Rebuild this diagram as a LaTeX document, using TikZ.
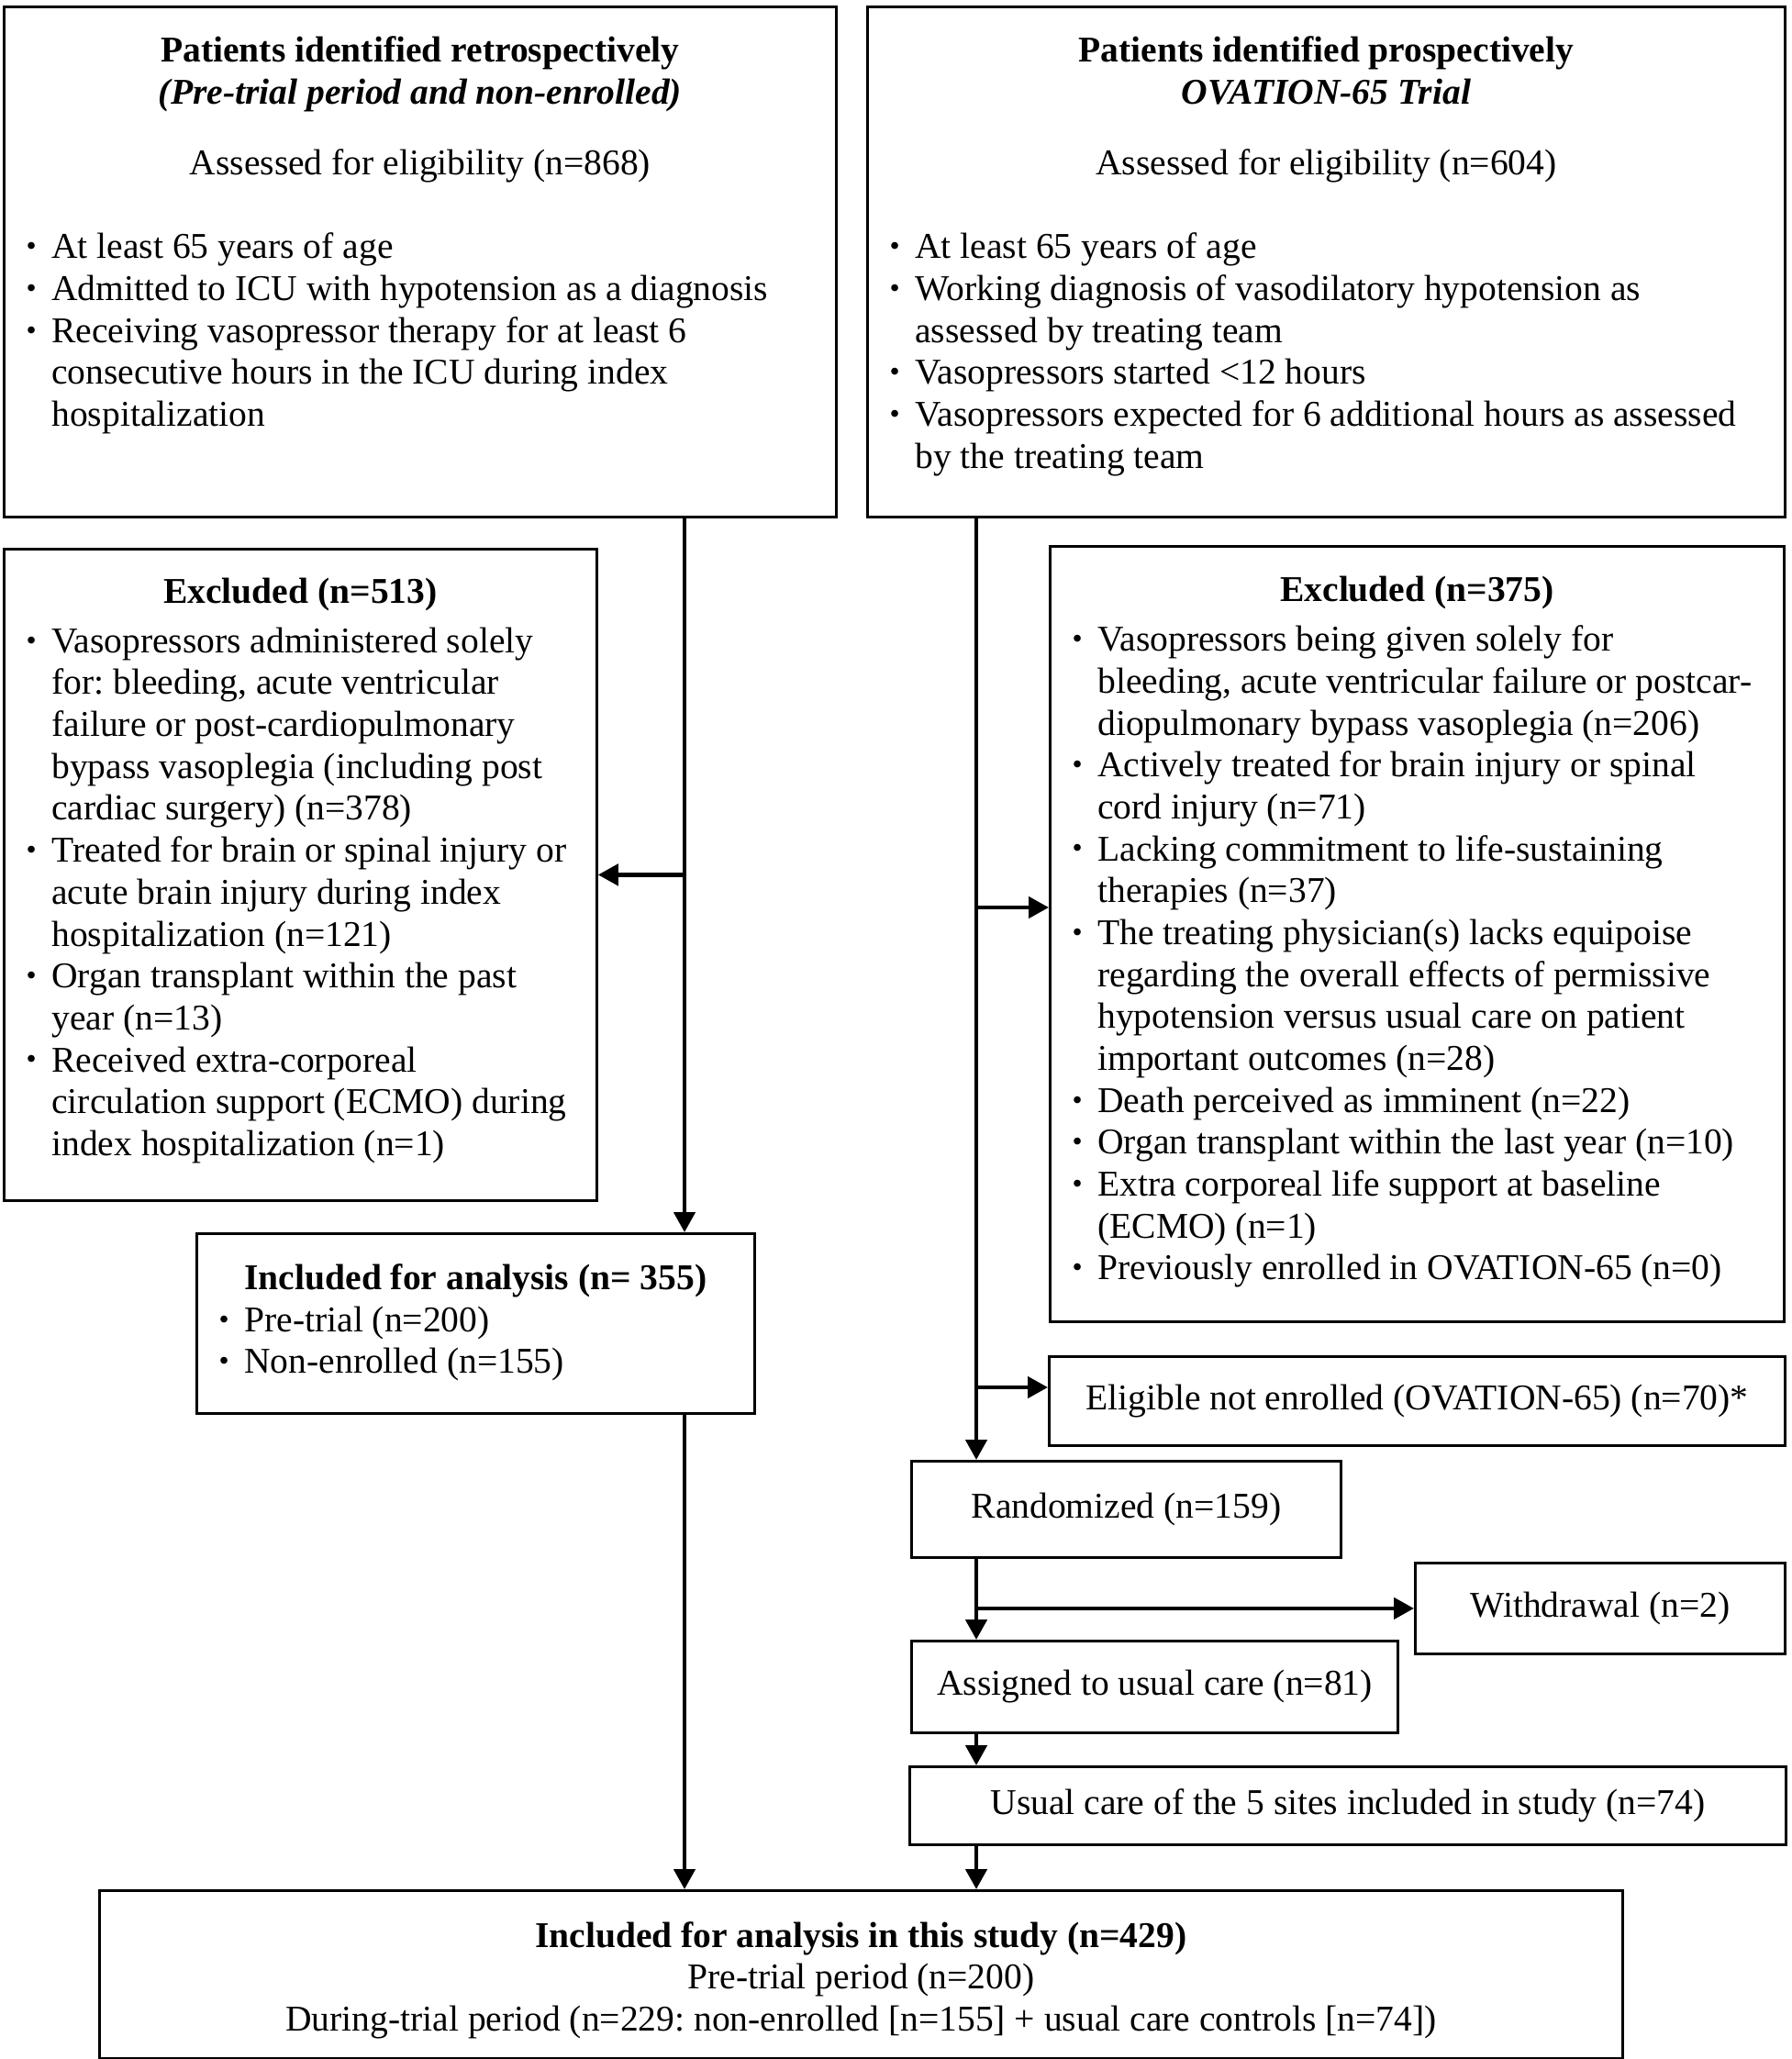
\documentclass[tikz,border=0pt]{standalone}
\usepackage{fontspec}
\setmainfont{Liberation Serif}
\usepackage{tikz}
\usetikzlibrary{arrows.meta,calc}
\frenchspacing

\newcommand{\crit}[1]{\par\noindent\hangindent=14.8pt\hangafter=1\hbox to 14.8pt{\hskip 6.9pt\raisebox{0.9pt}{\fontsize{9pt}{9pt}\selectfont\textbullet}\hfil}\strut #1}

\begin{document}
\begin{tikzpicture}
    \tikzstyle{dedge} = [line width=1.3pt,->,>={Triangle[length=2.2mm,width=2.3mm]},draw=black]
    \tikzstyle{box}=[
      draw=black,
      line width=0.8pt,
      anchor=north west,
      inner sep=0pt,
      font=\fontsize{11.25pt}{13pt}\selectfont,
    ]
    \tikzstyle{countbox}=[
      box,
      align=center,
    ]

    \coordinate (pageAnchor) at (0,0);
    \useasboundingbox (pageAnchor) rectangle ([xshift=19.52cm, yshift=-22.44cm] pageAnchor);

    \coordinate (leftTrunk) at ([xshift=7.46cm] pageAnchor);
    \coordinate (rightTrunk) at ([xshift=10.64cm] pageAnchor);
    \coordinate (exclRJoin) at ([xshift=10.64cm, yshift=-9.89cm] pageAnchor);
    \coordinate (eligJoin) at ([xshift=10.64cm, yshift=-15.12cm] pageAnchor);

    % retrospective arm
    {
      \node[box] (retro) at ([xshift=0.03cm, yshift=-0.06cm] pageAnchor) {\parbox[c][5.56cm][t]{9.07cm}{%
        \vspace*{8pt}%
        {\centering\strut\textbf{Patients identified retrospectively}\\
        \textbf{\textit{(Pre-trial period and non-enrolled)}}\\[9pt]
        Assessed for eligibility (n=868)\par}%
        \vspace{13pt}\raggedright
        \crit{At least 65 years of age}
        \crit{Admitted to ICU with hypotension as a diagnosis}
        \crit{Receiving vasopressor therapy for at least 6\newline consecutive hours in the ICU during index\newline hospitalization}}};

      \node[box] (exclL) at ([xshift=0.03cm, yshift=-5.97cm] pageAnchor) {\parbox[c][7.10cm][t]{6.46cm}{%
        \vspace*{7.7pt}%
        {\centering\strut\textbf{Excluded (n=513)}\par}%
        \vspace{2.3pt}\raggedright
        \crit{Vasopressors administered solely\newline for: bleeding, acute ventricular\newline failure or post-cardiopulmonary\newline bypass vasoplegia (including post\newline cardiac surgery) (n=378)}
        \crit{Treated for brain or spinal injury or\newline acute brain injury during index\newline hospitalization (n=121)}
        \crit{Organ transplant within the past\newline year (n=13)}
        \crit{Received extra-corporeal\newline circulation support (ECMO) during\newline index hospitalization (n=1)}}};

      \node[box] (inclL) at ([xshift=2.13cm, yshift=-13.43cm] pageAnchor) {\parbox[c][1.96cm][t]{6.08cm}{%
        \vspace*{8.3pt}%
        {\centering\strut\textbf{Included for analysis (n= 355)}\par}%
        \raggedright
        \crit{Pre-trial (n=200)}
        \crit{Non-enrolled (n=155)}}};
    }

    % prospective arm
    {
      \node[box] (prosp) at ([xshift=9.44cm, yshift=-0.06cm] pageAnchor) {\parbox[c][5.56cm][t]{10.00cm}{%
        \vspace*{8pt}%
        {\centering\strut\textbf{Patients identified prospectively}\\
        \textbf{\textit{OVATION-65 Trial}}\\[9pt]
        Assessed for eligibility (n=604)\par}%
        \vspace{13pt}\raggedright
        \crit{At least 65 years of age}
        \crit{Working diagnosis of vasodilatory hypotension as\newline assessed by treating team}
        \crit{Vasopressors started <12 hours}
        \crit{Vasopressors expected for 6 additional hours as assessed\newline by the treating team}}};

      \node[box] (exclR) at ([xshift=11.43cm, yshift=-5.94cm] pageAnchor) {\parbox[c][8.45cm][t]{8.00cm}{%
        \vspace*{8pt}%
        {\centering\strut\textbf{Excluded (n=375)}\par}%
        \vspace{2.4pt}\raggedright
        \crit{Vasopressors being given solely for\newline bleeding, acute ventricular failure or postcar-\newline diopulmonary bypass vasoplegia (n=206)}
        \crit{Actively treated for brain injury or spinal\newline cord injury (n=71)}
        \crit{Lacking commitment to life-sustaining\newline therapies (n=37)}
        \crit{The treating physician(s) lacks equipoise\newline regarding the overall effects of permissive\newline hypotension versus usual care on patient\newline important outcomes (n=28)}
        \crit{Death perceived as imminent (n=22)}
        \crit{Organ transplant within the last year (n=10)}
        \crit{Extra corporeal life support at baseline\newline (ECMO) (n=1)}
        \crit{Previously enrolled in OVATION-65 (n=0)}}};

      \node[countbox, minimum width=8.02cm, minimum height=0.97cm] (elig) at ([xshift=11.42cm, yshift=-14.77cm] pageAnchor) {Eligible not enrolled (OVATION-65) (n=70)*};
      \node[countbox, minimum width=4.68cm, minimum height=1.05cm] (rand) at ([xshift=9.92cm, yshift=-15.91cm] pageAnchor) {Randomized (n=159)};
      \node[countbox, minimum width=4.03cm, minimum height=0.99cm] (withd) at ([xshift=15.41cm, yshift=-17.02cm] pageAnchor) {Withdrawal (n=2)};
      \node[countbox, minimum width=5.30cm, minimum height=1.00cm] (assign) at ([xshift=9.92cm, yshift=-17.87cm] pageAnchor) {Assigned to usual care (n=81)};
      \node[countbox, minimum width=9.55cm, minimum height=0.85cm] (usual) at ([xshift=9.90cm, yshift=-19.24cm] pageAnchor) {Usual care of the 5 sites included in study (n=74)};
    }

    % study sample
    {
      \node[box] (final) at ([xshift=1.07cm, yshift=-20.59cm] pageAnchor) {\parbox[c][1.83cm][t]{16.60cm}{%
        \vspace*{8.5pt}%
        \centering\strut\textbf{Included for analysis in this study (n=429)}\\
        Pre-trial period (n=200)\\
        During-trial period (n=229: non-enrolled [n=155] + usual care controls [n=74])}};
    }

    % flow
    {
      \draw[dedge] (retro.south -| leftTrunk) -- (inclL.north -| leftTrunk);
      \draw[dedge] (exclL.east -| leftTrunk) -- (exclL.east);
      \draw[dedge] (inclL.south -| leftTrunk) -- (final.north -| leftTrunk);

      \draw[dedge] (prosp.south -| rightTrunk) -- (rand.north -| rightTrunk);
      \draw[dedge] (exclRJoin) -- (exclRJoin -| exclR.west);
      \draw[dedge] (eligJoin) -- (eligJoin -| elig.west);
      \draw[dedge] (rand.south -| rightTrunk) -- (assign.north -| rightTrunk);
      \draw[dedge] (withd.west -| rightTrunk) -- (withd.west);
      \draw[dedge] (assign.south -| rightTrunk) -- (usual.north -| rightTrunk);
      \draw[dedge] (usual.south -| rightTrunk) -- (final.north -| rightTrunk);
    }
\end{tikzpicture}
\end{document}
